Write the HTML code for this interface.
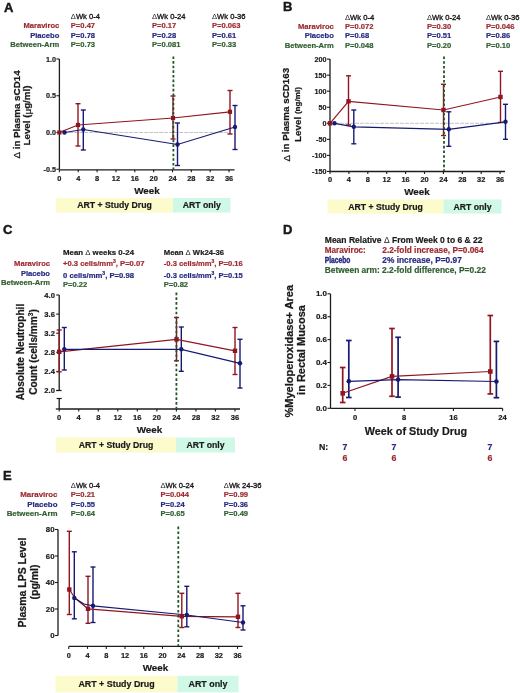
<!DOCTYPE html>
<html><head><meta charset="utf-8"><style>
html,body{margin:0;padding:0;background:#fff;width:520px;height:693px;overflow:hidden}
svg{display:block;filter:blur(0.3px)}
text{font-family:"Liberation Sans",sans-serif}
</style></head><body>
<svg width="520" height="693" viewBox="0 0 520 693">
<rect width="520" height="693" fill="#fff"/>
<text x="3.9" y="11.6" font-size="13" text-anchor="start" fill="#1a1a1a" font-weight="bold" stroke="#111" stroke-width="0.45">A</text>
<text x="70.8" y="19" font-size="7.6" text-anchor="start" fill="#1a1a1a" font-weight="normal" stroke="#1a1a1a" stroke-width="0.35"><tspan font-weight="normal" stroke-width="0">&#916;</tspan>Wk 0-4</text>
<text x="152" y="19" font-size="7.6" text-anchor="start" fill="#1a1a1a" font-weight="normal" stroke="#1a1a1a" stroke-width="0.35"><tspan font-weight="normal" stroke-width="0">&#916;</tspan>Wk 0-24</text>
<text x="212" y="19" font-size="7.6" text-anchor="start" fill="#1a1a1a" font-weight="normal" stroke="#1a1a1a" stroke-width="0.35"><tspan font-weight="normal" stroke-width="0">&#916;</tspan>Wk 0-36</text>
<text x="59.3" y="28.4" font-size="7.6" text-anchor="end" fill="#9e2a30" font-weight="bold"  stroke="#9e2a30" stroke-width="0.2">Maraviroc</text>
<text x="70.8" y="28.4" font-size="7.6" text-anchor="start" fill="#9e2a30" font-weight="bold"  stroke="#9e2a30" stroke-width="0.2">P=0.47</text>
<text x="152" y="28.4" font-size="7.6" text-anchor="start" fill="#9e2a30" font-weight="bold"  stroke="#9e2a30" stroke-width="0.2">P=0.17</text>
<text x="212" y="28.4" font-size="7.6" text-anchor="start" fill="#9e2a30" font-weight="bold"  stroke="#9e2a30" stroke-width="0.2">P=0.063</text>
<text x="59.3" y="37.7" font-size="7.6" text-anchor="end" fill="#272a80" font-weight="bold"  stroke="#272a80" stroke-width="0.2">Placebo</text>
<text x="70.8" y="37.7" font-size="7.6" text-anchor="start" fill="#272a80" font-weight="bold"  stroke="#272a80" stroke-width="0.2">P=0.78</text>
<text x="152" y="37.7" font-size="7.6" text-anchor="start" fill="#272a80" font-weight="bold"  stroke="#272a80" stroke-width="0.2">P=0.28</text>
<text x="212" y="37.7" font-size="7.6" text-anchor="start" fill="#272a80" font-weight="bold"  stroke="#272a80" stroke-width="0.2">P=0.61</text>
<text x="59.3" y="47.2" font-size="7.6" text-anchor="end" fill="#2f5f30" font-weight="bold"  stroke="#2f5f30" stroke-width="0.2">Between-Arm</text>
<text x="70.8" y="47.2" font-size="7.6" text-anchor="start" fill="#2f5f30" font-weight="bold"  stroke="#2f5f30" stroke-width="0.2">P=0.73</text>
<text x="152" y="47.2" font-size="7.6" text-anchor="start" fill="#2f5f30" font-weight="bold"  stroke="#2f5f30" stroke-width="0.2">P=0.081</text>
<text x="212" y="47.2" font-size="7.6" text-anchor="start" fill="#2f5f30" font-weight="bold"  stroke="#2f5f30" stroke-width="0.2">P=0.33</text>
<line x1="59.4" y1="59.0" x2="59.4" y2="169.25" stroke="#1c1c1c" stroke-width="1.3" />
<line x1="56.4" y1="59.0" x2="59.4" y2="59.0" stroke="#1c1c1c" stroke-width="1.1" />
<text x="55.9" y="61.6" font-size="7.2" text-anchor="end" fill="#1a1a1a" font-weight="bold"  stroke="#1a1a1a" stroke-width="0.2">1.0</text>
<line x1="56.4" y1="95.75" x2="59.4" y2="95.75" stroke="#1c1c1c" stroke-width="1.1" />
<text x="55.9" y="98.35" font-size="7.2" text-anchor="end" fill="#1a1a1a" font-weight="bold"  stroke="#1a1a1a" stroke-width="0.2">0.5</text>
<line x1="56.4" y1="132.5" x2="59.4" y2="132.5" stroke="#1c1c1c" stroke-width="1.1" />
<text x="55.9" y="135.1" font-size="7.2" text-anchor="end" fill="#1a1a1a" font-weight="bold"  stroke="#1a1a1a" stroke-width="0.2">0.0</text>
<line x1="56.4" y1="169.25" x2="59.4" y2="169.25" stroke="#1c1c1c" stroke-width="1.1" />
<text x="55.9" y="171.85" font-size="7.2" text-anchor="end" fill="#1a1a1a" font-weight="bold"  stroke="#1a1a1a" stroke-width="0.2">-0.5</text>
<line x1="59.4" y1="169.8" x2="234.5" y2="169.8" stroke="#1c1c1c" stroke-width="1.3" />
<line x1="59.4" y1="169.8" x2="59.4" y2="172.3" stroke="#1c1c1c" stroke-width="1.1" />
<text x="59.4" y="181" font-size="7.4" text-anchor="middle" fill="#1a1a1a" font-weight="bold"  stroke="#1a1a1a" stroke-width="0.2">0</text>
<line x1="78.25" y1="169.8" x2="78.25" y2="172.3" stroke="#1c1c1c" stroke-width="1.1" />
<text x="78.25" y="181" font-size="7.4" text-anchor="middle" fill="#1a1a1a" font-weight="bold"  stroke="#1a1a1a" stroke-width="0.2">4</text>
<line x1="97.1" y1="169.8" x2="97.1" y2="172.3" stroke="#1c1c1c" stroke-width="1.1" />
<text x="97.1" y="181" font-size="7.4" text-anchor="middle" fill="#1a1a1a" font-weight="bold"  stroke="#1a1a1a" stroke-width="0.2">8</text>
<line x1="115.95" y1="169.8" x2="115.95" y2="172.3" stroke="#1c1c1c" stroke-width="1.1" />
<text x="115.95" y="181" font-size="7.4" text-anchor="middle" fill="#1a1a1a" font-weight="bold"  stroke="#1a1a1a" stroke-width="0.2">12</text>
<line x1="134.8" y1="169.8" x2="134.8" y2="172.3" stroke="#1c1c1c" stroke-width="1.1" />
<text x="134.8" y="181" font-size="7.4" text-anchor="middle" fill="#1a1a1a" font-weight="bold"  stroke="#1a1a1a" stroke-width="0.2">16</text>
<line x1="153.65" y1="169.8" x2="153.65" y2="172.3" stroke="#1c1c1c" stroke-width="1.1" />
<text x="153.65" y="181" font-size="7.4" text-anchor="middle" fill="#1a1a1a" font-weight="bold"  stroke="#1a1a1a" stroke-width="0.2">20</text>
<line x1="172.5" y1="169.8" x2="172.5" y2="172.3" stroke="#1c1c1c" stroke-width="1.1" />
<text x="172.5" y="181" font-size="7.4" text-anchor="middle" fill="#1a1a1a" font-weight="bold"  stroke="#1a1a1a" stroke-width="0.2">24</text>
<line x1="191.35000000000002" y1="169.8" x2="191.35000000000002" y2="172.3" stroke="#1c1c1c" stroke-width="1.1" />
<text x="191.35000000000002" y="181" font-size="7.4" text-anchor="middle" fill="#1a1a1a" font-weight="bold"  stroke="#1a1a1a" stroke-width="0.2">28</text>
<line x1="210.20000000000002" y1="169.8" x2="210.20000000000002" y2="172.3" stroke="#1c1c1c" stroke-width="1.1" />
<text x="210.20000000000002" y="181" font-size="7.4" text-anchor="middle" fill="#1a1a1a" font-weight="bold"  stroke="#1a1a1a" stroke-width="0.2">32</text>
<line x1="229.05" y1="169.8" x2="229.05" y2="172.3" stroke="#1c1c1c" stroke-width="1.1" />
<text x="229.05" y="181" font-size="7.4" text-anchor="middle" fill="#1a1a1a" font-weight="bold"  stroke="#1a1a1a" stroke-width="0.2">36</text>
<text x="147" y="193.5" font-size="9.9" text-anchor="middle" fill="#1a1a1a" font-weight="bold"  stroke="#1a1a1a" stroke-width="0.2">Week</text>
<rect x="56" y="198" width="117" height="14.5" fill="#fcfbcc"/>
<rect x="173" y="198" width="57.5" height="14.5" fill="#cff8e7"/>
<text x="114.5" y="208.25" font-size="8.7" text-anchor="middle" fill="#1a1a1a" font-weight="bold"  stroke="#1a1a1a" stroke-width="0.2">ART + Study Drug</text>
<text x="201.75" y="208.25" font-size="8.7" text-anchor="middle" fill="#1a1a1a" font-weight="bold"  stroke="#1a1a1a" stroke-width="0.2">ART only</text>
<line x1="59.2" y1="132.5" x2="229" y2="132.5" stroke="#bdbdbd" stroke-width="0.9" stroke-dasharray="4,1"/>
<text transform="translate(16.4,114.5) rotate(-90)" x="0" y="0" font-size="9.8" text-anchor="middle" dominant-baseline="central" fill="#1a1a1a" font-weight="bold" stroke="#1a1a1a" stroke-width="0.25"><tspan font-weight="normal">&#916;</tspan> in Plasma sCD14</text>
<text transform="translate(26.5,115.5) rotate(-90)" x="0" y="0" font-size="9.8" text-anchor="middle" dominant-baseline="central" fill="#1a1a1a" font-weight="bold" stroke="#1a1a1a" stroke-width="0.25">Level (<tspan font-weight="normal">&#956;</tspan>g/ml)</text>
<line x1="78" y1="103.7" x2="78" y2="146" stroke="#8f1620" stroke-width="1.4" />
<line x1="75.5" y1="103.7" x2="80.5" y2="103.7" stroke="#8f1620" stroke-width="1.4" />
<line x1="75.5" y1="146" x2="80.5" y2="146" stroke="#8f1620" stroke-width="1.4" />
<line x1="173" y1="96" x2="173" y2="139" stroke="#8f1620" stroke-width="1.4" />
<line x1="170.5" y1="96" x2="175.5" y2="96" stroke="#8f1620" stroke-width="1.4" />
<line x1="170.5" y1="139" x2="175.5" y2="139" stroke="#8f1620" stroke-width="1.4" />
<line x1="230" y1="90.5" x2="230" y2="134" stroke="#8f1620" stroke-width="1.4" />
<line x1="227.5" y1="90.5" x2="232.5" y2="90.5" stroke="#8f1620" stroke-width="1.4" />
<line x1="227.5" y1="134" x2="232.5" y2="134" stroke="#8f1620" stroke-width="1.4" />
<line x1="83.3" y1="110" x2="83.3" y2="150" stroke="#161a72" stroke-width="1.4" />
<line x1="80.8" y1="110" x2="85.8" y2="110" stroke="#161a72" stroke-width="1.4" />
<line x1="80.8" y1="150" x2="85.8" y2="150" stroke="#161a72" stroke-width="1.4" />
<line x1="177.5" y1="123" x2="177.5" y2="165.5" stroke="#161a72" stroke-width="1.4" />
<line x1="175.0" y1="123" x2="180.0" y2="123" stroke="#161a72" stroke-width="1.4" />
<line x1="175.0" y1="165.5" x2="180.0" y2="165.5" stroke="#161a72" stroke-width="1.4" />
<line x1="235" y1="105.5" x2="235" y2="149.5" stroke="#161a72" stroke-width="1.4" />
<line x1="232.5" y1="105.5" x2="237.5" y2="105.5" stroke="#161a72" stroke-width="1.4" />
<line x1="232.5" y1="149.5" x2="237.5" y2="149.5" stroke="#161a72" stroke-width="1.4" />
<text x="283" y="10.9" font-size="13" text-anchor="start" fill="#1a1a1a" font-weight="bold" stroke="#111" stroke-width="0.45">B</text>
<text x="345" y="20.1" font-size="7.6" text-anchor="start" fill="#1a1a1a" font-weight="normal" stroke="#1a1a1a" stroke-width="0.35"><tspan font-weight="normal" stroke-width="0">&#916;</tspan>Wk 0-4</text>
<text x="427" y="20.1" font-size="7.6" text-anchor="start" fill="#1a1a1a" font-weight="normal" stroke="#1a1a1a" stroke-width="0.35"><tspan font-weight="normal" stroke-width="0">&#916;</tspan>Wk 0-24</text>
<text x="486" y="20.1" font-size="7.6" text-anchor="start" fill="#1a1a1a" font-weight="normal" stroke="#1a1a1a" stroke-width="0.35"><tspan font-weight="normal" stroke-width="0">&#916;</tspan>Wk 0-36</text>
<text x="333.8" y="29.3" font-size="7.6" text-anchor="end" fill="#9e2a30" font-weight="bold"  stroke="#9e2a30" stroke-width="0.2">Maraviroc</text>
<text x="345" y="29.3" font-size="7.6" text-anchor="start" fill="#9e2a30" font-weight="bold"  stroke="#9e2a30" stroke-width="0.2">P=0.072</text>
<text x="427" y="29.3" font-size="7.6" text-anchor="start" fill="#9e2a30" font-weight="bold"  stroke="#9e2a30" stroke-width="0.2">P=0.30</text>
<text x="486" y="29.3" font-size="7.6" text-anchor="start" fill="#9e2a30" font-weight="bold"  stroke="#9e2a30" stroke-width="0.2">P=0.046</text>
<text x="333.8" y="38.3" font-size="7.6" text-anchor="end" fill="#272a80" font-weight="bold"  stroke="#272a80" stroke-width="0.2">Placebo</text>
<text x="345" y="38.3" font-size="7.6" text-anchor="start" fill="#272a80" font-weight="bold"  stroke="#272a80" stroke-width="0.2">P=0.68</text>
<text x="427" y="38.3" font-size="7.6" text-anchor="start" fill="#272a80" font-weight="bold"  stroke="#272a80" stroke-width="0.2">P=0.51</text>
<text x="486" y="38.3" font-size="7.6" text-anchor="start" fill="#272a80" font-weight="bold"  stroke="#272a80" stroke-width="0.2">P=0.86</text>
<text x="333.8" y="47.9" font-size="7.6" text-anchor="end" fill="#2f5f30" font-weight="bold"  stroke="#2f5f30" stroke-width="0.2">Between-Arm</text>
<text x="345" y="47.9" font-size="7.6" text-anchor="start" fill="#2f5f30" font-weight="bold"  stroke="#2f5f30" stroke-width="0.2">P=0.048</text>
<text x="427" y="47.9" font-size="7.6" text-anchor="start" fill="#2f5f30" font-weight="bold"  stroke="#2f5f30" stroke-width="0.2">P=0.20</text>
<text x="486" y="47.9" font-size="7.6" text-anchor="start" fill="#2f5f30" font-weight="bold"  stroke="#2f5f30" stroke-width="0.2">P=0.10</text>
<line x1="330" y1="59.099999999999994" x2="330" y2="171.45" stroke="#1c1c1c" stroke-width="1.3" />
<line x1="327" y1="59.099999999999994" x2="330" y2="59.099999999999994" stroke="#1c1c1c" stroke-width="1.1" />
<text x="326.5" y="61.699999999999996" font-size="7.2" text-anchor="end" fill="#1a1a1a" font-weight="bold"  stroke="#1a1a1a" stroke-width="0.2">200</text>
<line x1="327" y1="75.15" x2="330" y2="75.15" stroke="#1c1c1c" stroke-width="1.1" />
<text x="326.5" y="77.75" font-size="7.2" text-anchor="end" fill="#1a1a1a" font-weight="bold"  stroke="#1a1a1a" stroke-width="0.2">150</text>
<line x1="327" y1="91.19999999999999" x2="330" y2="91.19999999999999" stroke="#1c1c1c" stroke-width="1.1" />
<text x="326.5" y="93.79999999999998" font-size="7.2" text-anchor="end" fill="#1a1a1a" font-weight="bold"  stroke="#1a1a1a" stroke-width="0.2">100</text>
<line x1="327" y1="107.25" x2="330" y2="107.25" stroke="#1c1c1c" stroke-width="1.1" />
<text x="326.5" y="109.85" font-size="7.2" text-anchor="end" fill="#1a1a1a" font-weight="bold"  stroke="#1a1a1a" stroke-width="0.2">50</text>
<line x1="327" y1="123.3" x2="330" y2="123.3" stroke="#1c1c1c" stroke-width="1.1" />
<text x="326.5" y="125.89999999999999" font-size="7.2" text-anchor="end" fill="#1a1a1a" font-weight="bold"  stroke="#1a1a1a" stroke-width="0.2">0</text>
<line x1="327" y1="139.35" x2="330" y2="139.35" stroke="#1c1c1c" stroke-width="1.1" />
<text x="326.5" y="141.95" font-size="7.2" text-anchor="end" fill="#1a1a1a" font-weight="bold"  stroke="#1a1a1a" stroke-width="0.2">-50</text>
<line x1="327" y1="155.4" x2="330" y2="155.4" stroke="#1c1c1c" stroke-width="1.1" />
<text x="326.5" y="158.0" font-size="7.2" text-anchor="end" fill="#1a1a1a" font-weight="bold"  stroke="#1a1a1a" stroke-width="0.2">-100</text>
<line x1="327" y1="171.45" x2="330" y2="171.45" stroke="#1c1c1c" stroke-width="1.1" />
<text x="326.5" y="174.04999999999998" font-size="7.2" text-anchor="end" fill="#1a1a1a" font-weight="bold"  stroke="#1a1a1a" stroke-width="0.2">-150</text>
<line x1="330" y1="171.5" x2="505" y2="171.5" stroke="#1c1c1c" stroke-width="1.3" />
<line x1="330.0" y1="171.5" x2="330.0" y2="174.0" stroke="#1c1c1c" stroke-width="1.1" />
<text x="330.0" y="182" font-size="7.4" text-anchor="middle" fill="#1a1a1a" font-weight="bold"  stroke="#1a1a1a" stroke-width="0.2">0</text>
<line x1="348.9" y1="171.5" x2="348.9" y2="174.0" stroke="#1c1c1c" stroke-width="1.1" />
<text x="348.9" y="182" font-size="7.4" text-anchor="middle" fill="#1a1a1a" font-weight="bold"  stroke="#1a1a1a" stroke-width="0.2">4</text>
<line x1="367.8" y1="171.5" x2="367.8" y2="174.0" stroke="#1c1c1c" stroke-width="1.1" />
<text x="367.8" y="182" font-size="7.4" text-anchor="middle" fill="#1a1a1a" font-weight="bold"  stroke="#1a1a1a" stroke-width="0.2">8</text>
<line x1="386.7" y1="171.5" x2="386.7" y2="174.0" stroke="#1c1c1c" stroke-width="1.1" />
<text x="386.7" y="182" font-size="7.4" text-anchor="middle" fill="#1a1a1a" font-weight="bold"  stroke="#1a1a1a" stroke-width="0.2">12</text>
<line x1="405.6" y1="171.5" x2="405.6" y2="174.0" stroke="#1c1c1c" stroke-width="1.1" />
<text x="405.6" y="182" font-size="7.4" text-anchor="middle" fill="#1a1a1a" font-weight="bold"  stroke="#1a1a1a" stroke-width="0.2">16</text>
<line x1="424.5" y1="171.5" x2="424.5" y2="174.0" stroke="#1c1c1c" stroke-width="1.1" />
<text x="424.5" y="182" font-size="7.4" text-anchor="middle" fill="#1a1a1a" font-weight="bold"  stroke="#1a1a1a" stroke-width="0.2">20</text>
<line x1="443.4" y1="171.5" x2="443.4" y2="174.0" stroke="#1c1c1c" stroke-width="1.1" />
<text x="443.4" y="182" font-size="7.4" text-anchor="middle" fill="#1a1a1a" font-weight="bold"  stroke="#1a1a1a" stroke-width="0.2">24</text>
<line x1="462.29999999999995" y1="171.5" x2="462.29999999999995" y2="174.0" stroke="#1c1c1c" stroke-width="1.1" />
<text x="462.29999999999995" y="182" font-size="7.4" text-anchor="middle" fill="#1a1a1a" font-weight="bold"  stroke="#1a1a1a" stroke-width="0.2">28</text>
<line x1="481.2" y1="171.5" x2="481.2" y2="174.0" stroke="#1c1c1c" stroke-width="1.1" />
<text x="481.2" y="182" font-size="7.4" text-anchor="middle" fill="#1a1a1a" font-weight="bold"  stroke="#1a1a1a" stroke-width="0.2">32</text>
<line x1="500.1" y1="171.5" x2="500.1" y2="174.0" stroke="#1c1c1c" stroke-width="1.1" />
<text x="500.1" y="182" font-size="7.4" text-anchor="middle" fill="#1a1a1a" font-weight="bold"  stroke="#1a1a1a" stroke-width="0.2">36</text>
<text x="417" y="194.5" font-size="9.9" text-anchor="middle" fill="#1a1a1a" font-weight="bold"  stroke="#1a1a1a" stroke-width="0.2">Week</text>
<rect x="327.5" y="199.5" width="116.0" height="14" fill="#fcfbcc"/>
<rect x="443.5" y="199.5" width="58.0" height="14" fill="#cff8e7"/>
<text x="385.5" y="209.5" font-size="8.7" text-anchor="middle" fill="#1a1a1a" font-weight="bold"  stroke="#1a1a1a" stroke-width="0.2">ART + Study Drug</text>
<text x="472.5" y="209.5" font-size="8.7" text-anchor="middle" fill="#1a1a1a" font-weight="bold"  stroke="#1a1a1a" stroke-width="0.2">ART only</text>
<line x1="330" y1="123.3" x2="500" y2="123.3" stroke="#bdbdbd" stroke-width="0.9" stroke-dasharray="4,1"/>
<text transform="translate(285.6,114.7) rotate(-90)" x="0" y="0" font-size="9.8" text-anchor="middle" dominant-baseline="central" fill="#1a1a1a" font-weight="bold" stroke="#1a1a1a" stroke-width="0.25"><tspan font-weight="normal">&#916;</tspan> in Plasma sCD163</text>
<text transform="translate(297.2,114.5) rotate(-90)" x="0" y="0" font-size="9.8" text-anchor="middle" dominant-baseline="central" fill="#1a1a1a" font-weight="bold" stroke="#1a1a1a" stroke-width="0.25">Level <tspan font-size="8.1">(ng/ml)</tspan></text>
<line x1="348.5" y1="75.8" x2="348.5" y2="125" stroke="#8f1620" stroke-width="1.4" />
<line x1="346.0" y1="75.8" x2="351.0" y2="75.8" stroke="#8f1620" stroke-width="1.4" />
<line x1="346.0" y1="125" x2="351.0" y2="125" stroke="#8f1620" stroke-width="1.4" />
<line x1="443.5" y1="84.3" x2="443.5" y2="135.5" stroke="#8f1620" stroke-width="1.4" />
<line x1="441.0" y1="84.3" x2="446.0" y2="84.3" stroke="#8f1620" stroke-width="1.4" />
<line x1="441.0" y1="135.5" x2="446.0" y2="135.5" stroke="#8f1620" stroke-width="1.4" />
<line x1="500.5" y1="71.3" x2="500.5" y2="122.5" stroke="#8f1620" stroke-width="1.4" />
<line x1="498.0" y1="71.3" x2="503.0" y2="71.3" stroke="#8f1620" stroke-width="1.4" />
<line x1="498.0" y1="122.5" x2="503.0" y2="122.5" stroke="#8f1620" stroke-width="1.4" />
<line x1="353.8" y1="110" x2="353.8" y2="143.8" stroke="#161a72" stroke-width="1.4" />
<line x1="351.3" y1="110" x2="356.3" y2="110" stroke="#161a72" stroke-width="1.4" />
<line x1="351.3" y1="143.8" x2="356.3" y2="143.8" stroke="#161a72" stroke-width="1.4" />
<line x1="448.8" y1="111.8" x2="448.8" y2="146.3" stroke="#161a72" stroke-width="1.4" />
<line x1="446.3" y1="111.8" x2="451.3" y2="111.8" stroke="#161a72" stroke-width="1.4" />
<line x1="446.3" y1="146.3" x2="451.3" y2="146.3" stroke="#161a72" stroke-width="1.4" />
<line x1="505.5" y1="104.3" x2="505.5" y2="139.3" stroke="#161a72" stroke-width="1.4" />
<line x1="503.0" y1="104.3" x2="508.0" y2="104.3" stroke="#161a72" stroke-width="1.4" />
<line x1="503.0" y1="139.3" x2="508.0" y2="139.3" stroke="#161a72" stroke-width="1.4" />
<text x="3.0" y="234.3" font-size="13" text-anchor="start" fill="#1a1a1a" font-weight="bold" stroke="#111" stroke-width="0.45">C</text>
<text x="63" y="254.5" font-size="7.6" text-anchor="start" fill="#1a1a1a" font-weight="bold" textLength="71" lengthAdjust="spacingAndGlyphs"  stroke="#1a1a1a" stroke-width="0.2">Mean <tspan font-weight="normal" stroke-width="0">&#916;</tspan> weeks 0-24</text>
<text x="63" y="266" font-size="7.6" text-anchor="start" fill="#9e2a30" font-weight="bold" textLength="81.5" lengthAdjust="spacingAndGlyphs"  stroke="#9e2a30" stroke-width="0.2">+0.3 cells/mm<tspan dy="-3" font-size="5">3</tspan><tspan dy="3">, P=0.07</tspan></text>
<text x="63" y="278" font-size="7.6" text-anchor="start" fill="#272a80" font-weight="bold" textLength="71" lengthAdjust="spacingAndGlyphs"  stroke="#272a80" stroke-width="0.2">0 cells/mm<tspan dy="-3" font-size="5">3</tspan><tspan dy="3">, P=0.98</tspan></text>
<text x="63" y="287" font-size="7.6" text-anchor="start" fill="#2f5f30" font-weight="bold"  stroke="#2f5f30" stroke-width="0.2">P=0.22</text>
<text x="163.8" y="254.5" font-size="7.6" text-anchor="start" fill="#1a1a1a" font-weight="bold" textLength="60.3" lengthAdjust="spacingAndGlyphs"  stroke="#1a1a1a" stroke-width="0.2">Mean <tspan font-weight="normal" stroke-width="0">&#916;</tspan> Wk24-36</text>
<text x="163.8" y="266" font-size="7.6" text-anchor="start" fill="#9e2a30" font-weight="bold" textLength="79" lengthAdjust="spacingAndGlyphs"  stroke="#9e2a30" stroke-width="0.2">-0.3 cells/mm<tspan dy="-3" font-size="5">3</tspan><tspan dy="3">, P=0.16</tspan></text>
<text x="163.8" y="278" font-size="7.6" text-anchor="start" fill="#272a80" font-weight="bold" textLength="79" lengthAdjust="spacingAndGlyphs"  stroke="#272a80" stroke-width="0.2">-0.3 cells/mm<tspan dy="-3" font-size="5">3</tspan><tspan dy="3">, P=0.15</tspan></text>
<text x="163.8" y="287" font-size="7.6" text-anchor="start" fill="#2f5f30" font-weight="bold"  stroke="#2f5f30" stroke-width="0.2">P=0.82</text>
<text x="50" y="266" font-size="7.6" text-anchor="end" fill="#9e2a30" font-weight="bold"  stroke="#9e2a30" stroke-width="0.2">Maraviroc</text>
<text x="50" y="275.5" font-size="7.6" text-anchor="end" fill="#272a80" font-weight="bold"  stroke="#272a80" stroke-width="0.2">Placebo</text>
<text x="50" y="285" font-size="7.6" text-anchor="end" fill="#2f5f30" font-weight="bold"  stroke="#2f5f30" stroke-width="0.2">Between-Arm</text>
<line x1="59.2" y1="295.0" x2="59.2" y2="390.5" stroke="#1c1c1c" stroke-width="1.3" />
<line x1="56.2" y1="295.0" x2="59.2" y2="295.0" stroke="#1c1c1c" stroke-width="1.1" />
<text x="54.900000000000006" y="297.6" font-size="7.6" text-anchor="end" fill="#1a1a1a" font-weight="bold"  stroke="#1a1a1a" stroke-width="0.2">4.0</text>
<line x1="56.2" y1="314.1" x2="59.2" y2="314.1" stroke="#1c1c1c" stroke-width="1.1" />
<text x="54.900000000000006" y="316.70000000000005" font-size="7.6" text-anchor="end" fill="#1a1a1a" font-weight="bold"  stroke="#1a1a1a" stroke-width="0.2">3.6</text>
<line x1="56.2" y1="333.2" x2="59.2" y2="333.2" stroke="#1c1c1c" stroke-width="1.1" />
<text x="54.900000000000006" y="335.8" font-size="7.6" text-anchor="end" fill="#1a1a1a" font-weight="bold"  stroke="#1a1a1a" stroke-width="0.2">3.2</text>
<line x1="56.2" y1="352.3" x2="59.2" y2="352.3" stroke="#1c1c1c" stroke-width="1.1" />
<text x="54.900000000000006" y="354.90000000000003" font-size="7.6" text-anchor="end" fill="#1a1a1a" font-weight="bold"  stroke="#1a1a1a" stroke-width="0.2">2.8</text>
<line x1="56.2" y1="371.4" x2="59.2" y2="371.4" stroke="#1c1c1c" stroke-width="1.1" />
<text x="54.900000000000006" y="374.0" font-size="7.6" text-anchor="end" fill="#1a1a1a" font-weight="bold"  stroke="#1a1a1a" stroke-width="0.2">2.4</text>
<line x1="56.2" y1="390.5" x2="59.2" y2="390.5" stroke="#1c1c1c" stroke-width="1.1" />
<text x="54.900000000000006" y="393.1" font-size="7.6" text-anchor="end" fill="#1a1a1a" font-weight="bold"  stroke="#1a1a1a" stroke-width="0.2">2.0</text>
<line x1="59.2" y1="398.5" x2="59.2" y2="409" stroke="#1c1c1c" stroke-width="1.3" />
<line x1="56.6" y1="398.5" x2="61.8" y2="398.5" stroke="#1c1c1c" stroke-width="1.2" />
<line x1="56.2" y1="390.5" x2="61.6" y2="390.5" stroke="#1c1c1c" stroke-width="1.2" />
<line x1="55.8" y1="409" x2="59.2" y2="409" stroke="#1c1c1c" stroke-width="1.3" />
<line x1="59.2" y1="409" x2="240" y2="409" stroke="#1c1c1c" stroke-width="1.3" />
<line x1="59.2" y1="409" x2="59.2" y2="411.5" stroke="#1c1c1c" stroke-width="1.1" />
<text x="59.2" y="420.3" font-size="7.6" text-anchor="middle" fill="#1a1a1a" font-weight="bold"  stroke="#1a1a1a" stroke-width="0.2">0</text>
<line x1="78.73" y1="409" x2="78.73" y2="411.5" stroke="#1c1c1c" stroke-width="1.1" />
<text x="78.73" y="420.3" font-size="7.6" text-anchor="middle" fill="#1a1a1a" font-weight="bold"  stroke="#1a1a1a" stroke-width="0.2">4</text>
<line x1="98.26" y1="409" x2="98.26" y2="411.5" stroke="#1c1c1c" stroke-width="1.1" />
<text x="98.26" y="420.3" font-size="7.6" text-anchor="middle" fill="#1a1a1a" font-weight="bold"  stroke="#1a1a1a" stroke-width="0.2">8</text>
<line x1="117.79" y1="409" x2="117.79" y2="411.5" stroke="#1c1c1c" stroke-width="1.1" />
<text x="117.79" y="420.3" font-size="7.6" text-anchor="middle" fill="#1a1a1a" font-weight="bold"  stroke="#1a1a1a" stroke-width="0.2">12</text>
<line x1="137.32" y1="409" x2="137.32" y2="411.5" stroke="#1c1c1c" stroke-width="1.1" />
<text x="137.32" y="420.3" font-size="7.6" text-anchor="middle" fill="#1a1a1a" font-weight="bold"  stroke="#1a1a1a" stroke-width="0.2">16</text>
<line x1="156.85000000000002" y1="409" x2="156.85000000000002" y2="411.5" stroke="#1c1c1c" stroke-width="1.1" />
<text x="156.85000000000002" y="420.3" font-size="7.6" text-anchor="middle" fill="#1a1a1a" font-weight="bold"  stroke="#1a1a1a" stroke-width="0.2">20</text>
<line x1="176.38" y1="409" x2="176.38" y2="411.5" stroke="#1c1c1c" stroke-width="1.1" />
<text x="176.38" y="420.3" font-size="7.6" text-anchor="middle" fill="#1a1a1a" font-weight="bold"  stroke="#1a1a1a" stroke-width="0.2">24</text>
<line x1="195.91000000000003" y1="409" x2="195.91000000000003" y2="411.5" stroke="#1c1c1c" stroke-width="1.1" />
<text x="195.91000000000003" y="420.3" font-size="7.6" text-anchor="middle" fill="#1a1a1a" font-weight="bold"  stroke="#1a1a1a" stroke-width="0.2">28</text>
<line x1="215.44" y1="409" x2="215.44" y2="411.5" stroke="#1c1c1c" stroke-width="1.1" />
<text x="215.44" y="420.3" font-size="7.6" text-anchor="middle" fill="#1a1a1a" font-weight="bold"  stroke="#1a1a1a" stroke-width="0.2">32</text>
<line x1="234.97000000000003" y1="409" x2="234.97000000000003" y2="411.5" stroke="#1c1c1c" stroke-width="1.1" />
<text x="234.97000000000003" y="420.3" font-size="7.6" text-anchor="middle" fill="#1a1a1a" font-weight="bold"  stroke="#1a1a1a" stroke-width="0.2">36</text>
<text x="149.5" y="432.7" font-size="9.9" text-anchor="middle" fill="#1a1a1a" font-weight="bold"  stroke="#1a1a1a" stroke-width="0.2">Week</text>
<rect x="56" y="437.5" width="120" height="15" fill="#fcfbcc"/>
<rect x="176" y="437.5" width="59" height="15" fill="#cff8e7"/>
<text x="116.0" y="448.0" font-size="8.7" text-anchor="middle" fill="#1a1a1a" font-weight="bold"  stroke="#1a1a1a" stroke-width="0.2">ART + Study Drug</text>
<text x="205.5" y="448.0" font-size="8.7" text-anchor="middle" fill="#1a1a1a" font-weight="bold"  stroke="#1a1a1a" stroke-width="0.2">ART only</text>
<text transform="translate(20,352) rotate(-90)" x="0" y="0" font-size="10.1" text-anchor="middle" dominant-baseline="central" fill="#1a1a1a" font-weight="bold" stroke="#1a1a1a" stroke-width="0.25">Absolute Neutrophil</text>
<text transform="translate(33,352) rotate(-90)" x="0" y="0" font-size="10.1" text-anchor="middle" dominant-baseline="central" fill="#1a1a1a" font-weight="bold" stroke="#1a1a1a" stroke-width="0.25">Count (cells/mm<tspan dy="-3" font-size="6.5">3</tspan><tspan dy="3">)</tspan></text>
<line x1="59.2" y1="330" x2="59.2" y2="371.8" stroke="#8f1620" stroke-width="1.4" />
<line x1="56.7" y1="330" x2="61.7" y2="330" stroke="#8f1620" stroke-width="1.4" />
<line x1="56.7" y1="371.8" x2="61.7" y2="371.8" stroke="#8f1620" stroke-width="1.4" />
<line x1="176.5" y1="317.5" x2="176.5" y2="360.8" stroke="#8f1620" stroke-width="1.4" />
<line x1="174.0" y1="317.5" x2="179.0" y2="317.5" stroke="#8f1620" stroke-width="1.4" />
<line x1="174.0" y1="360.8" x2="179.0" y2="360.8" stroke="#8f1620" stroke-width="1.4" />
<line x1="235" y1="327.5" x2="235" y2="374.5" stroke="#8f1620" stroke-width="1.4" />
<line x1="232.5" y1="327.5" x2="237.5" y2="327.5" stroke="#8f1620" stroke-width="1.4" />
<line x1="232.5" y1="374.5" x2="237.5" y2="374.5" stroke="#8f1620" stroke-width="1.4" />
<line x1="64.3" y1="327.5" x2="64.3" y2="370" stroke="#161a72" stroke-width="1.4" />
<line x1="61.8" y1="327.5" x2="66.8" y2="327.5" stroke="#161a72" stroke-width="1.4" />
<line x1="61.8" y1="370" x2="66.8" y2="370" stroke="#161a72" stroke-width="1.4" />
<line x1="181.3" y1="327" x2="181.3" y2="371.3" stroke="#161a72" stroke-width="1.4" />
<line x1="178.8" y1="327" x2="183.8" y2="327" stroke="#161a72" stroke-width="1.4" />
<line x1="178.8" y1="371.3" x2="183.8" y2="371.3" stroke="#161a72" stroke-width="1.4" />
<line x1="240" y1="339.3" x2="240" y2="388" stroke="#161a72" stroke-width="1.4" />
<line x1="237.5" y1="339.3" x2="242.5" y2="339.3" stroke="#161a72" stroke-width="1.4" />
<line x1="237.5" y1="388" x2="242.5" y2="388" stroke="#161a72" stroke-width="1.4" />
<text x="283" y="234.2" font-size="13" text-anchor="start" fill="#1a1a1a" font-weight="bold" stroke="#111" stroke-width="0.45">D</text>
<text x="324.8" y="242.8" font-size="8.6" text-anchor="start" fill="#1a1a1a" font-weight="bold" textLength="157.8" lengthAdjust="spacingAndGlyphs"  stroke="#1a1a1a" stroke-width="0.2">Mean Relative <tspan font-weight="normal" stroke-width="0">&#916;</tspan> From Week 0 to 6 &amp; 22</text>
<text x="324.8" y="253" font-size="8.6" text-anchor="start" fill="#9e2a30" font-weight="bold" textLength="41" lengthAdjust="spacingAndGlyphs"  stroke="#9e2a30" stroke-width="0.2">Maraviroc:</text>
<text x="382.3" y="253" font-size="8.6" text-anchor="start" fill="#9e2a30" font-weight="bold" textLength="101.3" lengthAdjust="spacingAndGlyphs"  stroke="#9e2a30" stroke-width="0.2">2.2-fold increase, P=0.064</text>
<text x="324.8" y="263" font-size="9.2" text-anchor="start" fill="#272a80" font-weight="bold" textLength="25.5" lengthAdjust="spacingAndGlyphs" stroke="#272a80" stroke-width="0.45">Placebo</text>
<text x="382.3" y="262.9" font-size="8.6" text-anchor="start" fill="#272a80" font-weight="bold" textLength="79.5" lengthAdjust="spacingAndGlyphs"  stroke="#272a80" stroke-width="0.2">2% increase, P=0.97</text>
<text x="324.8" y="273" font-size="8.6" text-anchor="start" fill="#2f5f30" font-weight="bold" textLength="161" lengthAdjust="spacingAndGlyphs"  stroke="#2f5f30" stroke-width="0.2">Between arm: 2.2-fold difference, P=0.22</text>
<line x1="330.5" y1="293.8" x2="330.5" y2="408.3" stroke="#1c1c1c" stroke-width="1.3" />
<line x1="327.5" y1="293.8" x2="330.5" y2="293.8" stroke="#1c1c1c" stroke-width="1.1" />
<text x="327.0" y="296.40000000000003" font-size="8" text-anchor="end" fill="#1a1a1a" font-weight="bold"  stroke="#1a1a1a" stroke-width="0.2">1.0</text>
<line x1="327.5" y1="316.7" x2="330.5" y2="316.7" stroke="#1c1c1c" stroke-width="1.1" />
<text x="327.0" y="319.3" font-size="8" text-anchor="end" fill="#1a1a1a" font-weight="bold"  stroke="#1a1a1a" stroke-width="0.2">0.8</text>
<line x1="327.5" y1="339.6" x2="330.5" y2="339.6" stroke="#1c1c1c" stroke-width="1.1" />
<text x="327.0" y="342.20000000000005" font-size="8" text-anchor="end" fill="#1a1a1a" font-weight="bold"  stroke="#1a1a1a" stroke-width="0.2">0.6</text>
<line x1="327.5" y1="362.5" x2="330.5" y2="362.5" stroke="#1c1c1c" stroke-width="1.1" />
<text x="327.0" y="365.1" font-size="8" text-anchor="end" fill="#1a1a1a" font-weight="bold"  stroke="#1a1a1a" stroke-width="0.2">0.4</text>
<line x1="327.5" y1="385.40000000000003" x2="330.5" y2="385.40000000000003" stroke="#1c1c1c" stroke-width="1.1" />
<text x="327.0" y="388.00000000000006" font-size="8" text-anchor="end" fill="#1a1a1a" font-weight="bold"  stroke="#1a1a1a" stroke-width="0.2">0.2</text>
<line x1="327.5" y1="408.3" x2="330.5" y2="408.3" stroke="#1c1c1c" stroke-width="1.1" />
<text x="327.0" y="410.90000000000003" font-size="8" text-anchor="end" fill="#1a1a1a" font-weight="bold"  stroke="#1a1a1a" stroke-width="0.2">0.0</text>
<line x1="330.5" y1="408.3" x2="502.5" y2="408.3" stroke="#1c1c1c" stroke-width="1.3" />
<line x1="355.0" y1="408.3" x2="355.0" y2="411" stroke="#1c1c1c" stroke-width="1.1" />
<text x="355.0" y="420" font-size="7.6" text-anchor="middle" fill="#1a1a1a" font-weight="bold"  stroke="#1a1a1a" stroke-width="0.2">0</text>
<line x1="404.2" y1="408.3" x2="404.2" y2="411" stroke="#1c1c1c" stroke-width="1.1" />
<text x="404.2" y="420" font-size="7.6" text-anchor="middle" fill="#1a1a1a" font-weight="bold"  stroke="#1a1a1a" stroke-width="0.2">8</text>
<line x1="453.4" y1="408.3" x2="453.4" y2="411" stroke="#1c1c1c" stroke-width="1.1" />
<text x="453.4" y="420" font-size="7.6" text-anchor="middle" fill="#1a1a1a" font-weight="bold"  stroke="#1a1a1a" stroke-width="0.2">16</text>
<line x1="502.6" y1="408.3" x2="502.6" y2="411" stroke="#1c1c1c" stroke-width="1.1" />
<text x="502.6" y="420" font-size="7.6" text-anchor="middle" fill="#1a1a1a" font-weight="bold"  stroke="#1a1a1a" stroke-width="0.2">24</text>
<text x="416" y="434.5" font-size="10.8" text-anchor="middle" fill="#1a1a1a" font-weight="bold"  stroke="#1a1a1a" stroke-width="0.2">Week of Study Drug</text>
<text transform="translate(289.2,351.2) rotate(-90)" x="0" y="0" font-size="11" text-anchor="middle" dominant-baseline="central" fill="#1a1a1a" font-weight="bold" stroke="#1a1a1a" stroke-width="0.25">%Myeloperoxidase+ Area</text>
<text transform="translate(300.8,350) rotate(-90)" x="0" y="0" font-size="11" text-anchor="middle" dominant-baseline="central" fill="#1a1a1a" font-weight="bold" stroke="#1a1a1a" stroke-width="0.25">in Rectal Mucosa</text>
<line x1="342.7" y1="367.5" x2="342.7" y2="402.5" stroke="#8f1620" stroke-width="1.7" />
<line x1="339.9" y1="367.5" x2="345.5" y2="367.5" stroke="#8f1620" stroke-width="1.7" />
<line x1="339.9" y1="402.5" x2="345.5" y2="402.5" stroke="#8f1620" stroke-width="1.7" />
<line x1="392" y1="328.5" x2="392" y2="396.3" stroke="#8f1620" stroke-width="1.7" />
<line x1="389.2" y1="328.5" x2="394.8" y2="328.5" stroke="#8f1620" stroke-width="1.7" />
<line x1="389.2" y1="396.3" x2="394.8" y2="396.3" stroke="#8f1620" stroke-width="1.7" />
<line x1="490.3" y1="315.5" x2="490.3" y2="393.9" stroke="#8f1620" stroke-width="1.7" />
<line x1="487.5" y1="315.5" x2="493.1" y2="315.5" stroke="#8f1620" stroke-width="1.7" />
<line x1="487.5" y1="393.9" x2="493.1" y2="393.9" stroke="#8f1620" stroke-width="1.7" />
<line x1="348.8" y1="340.5" x2="348.8" y2="397.5" stroke="#161a72" stroke-width="1.7" />
<line x1="346.0" y1="340.5" x2="351.6" y2="340.5" stroke="#161a72" stroke-width="1.7" />
<line x1="346.0" y1="397.5" x2="351.6" y2="397.5" stroke="#161a72" stroke-width="1.7" />
<line x1="398.1" y1="337.3" x2="398.1" y2="397.1" stroke="#161a72" stroke-width="1.7" />
<line x1="395.3" y1="337.3" x2="400.90000000000003" y2="337.3" stroke="#161a72" stroke-width="1.7" />
<line x1="395.3" y1="397.1" x2="400.90000000000003" y2="397.1" stroke="#161a72" stroke-width="1.7" />
<line x1="496.4" y1="341.4" x2="496.4" y2="397.7" stroke="#161a72" stroke-width="1.7" />
<line x1="493.59999999999997" y1="341.4" x2="499.2" y2="341.4" stroke="#161a72" stroke-width="1.7" />
<line x1="493.59999999999997" y1="397.7" x2="499.2" y2="397.7" stroke="#161a72" stroke-width="1.7" />
<text x="319" y="449.5" font-size="8.8" text-anchor="start" fill="#1a1a1a" font-weight="bold"  stroke="#1a1a1a" stroke-width="0.2">N:</text>
<text x="345" y="449.5" font-size="8.8" text-anchor="middle" fill="#272a80" font-weight="bold"  stroke="#272a80" stroke-width="0.2">7</text>
<text x="345" y="460.8" font-size="8.8" text-anchor="middle" fill="#9e2a30" font-weight="bold"  stroke="#9e2a30" stroke-width="0.2">6</text>
<text x="394" y="449.5" font-size="8.8" text-anchor="middle" fill="#272a80" font-weight="bold"  stroke="#272a80" stroke-width="0.2">7</text>
<text x="394" y="460.8" font-size="8.8" text-anchor="middle" fill="#9e2a30" font-weight="bold"  stroke="#9e2a30" stroke-width="0.2">6</text>
<text x="490" y="449.5" font-size="8.8" text-anchor="middle" fill="#272a80" font-weight="bold"  stroke="#272a80" stroke-width="0.2">7</text>
<text x="490" y="460.8" font-size="8.8" text-anchor="middle" fill="#9e2a30" font-weight="bold"  stroke="#9e2a30" stroke-width="0.2">6</text>
<text x="2.9" y="479.5" font-size="13" text-anchor="start" fill="#1a1a1a" font-weight="bold" stroke="#111" stroke-width="0.45">E</text>
<text x="70.8" y="488" font-size="7.6" text-anchor="start" fill="#1a1a1a" font-weight="normal" stroke="#1a1a1a" stroke-width="0.35"><tspan font-weight="normal" stroke-width="0">&#916;</tspan>Wk 0-4</text>
<text x="160.5" y="488" font-size="7.6" text-anchor="start" fill="#1a1a1a" font-weight="normal" stroke="#1a1a1a" stroke-width="0.35"><tspan font-weight="normal" stroke-width="0">&#916;</tspan>Wk 0-24</text>
<text x="223.8" y="488" font-size="7.6" text-anchor="start" fill="#1a1a1a" font-weight="normal" stroke="#1a1a1a" stroke-width="0.35"><tspan font-weight="normal" stroke-width="0">&#916;</tspan>Wk 24-36</text>
<text x="57.5" y="496.6" font-size="7.9" text-anchor="end" fill="#9e2a30" font-weight="bold"  stroke="#9e2a30" stroke-width="0.2">Maraviroc</text>
<text x="70.8" y="496.6" font-size="7.6" text-anchor="start" fill="#9e2a30" font-weight="bold"  stroke="#9e2a30" stroke-width="0.2">P=0.21</text>
<text x="160.5" y="496.6" font-size="7.6" text-anchor="start" fill="#9e2a30" font-weight="bold"  stroke="#9e2a30" stroke-width="0.2">P=0.044</text>
<text x="223.8" y="496.6" font-size="7.6" text-anchor="start" fill="#9e2a30" font-weight="bold"  stroke="#9e2a30" stroke-width="0.2">P=0.99</text>
<text x="57.5" y="507.3" font-size="7.9" text-anchor="end" fill="#272a80" font-weight="bold"  stroke="#272a80" stroke-width="0.2">Placebo</text>
<text x="70.8" y="507.3" font-size="7.6" text-anchor="start" fill="#272a80" font-weight="bold"  stroke="#272a80" stroke-width="0.2">P=0.55</text>
<text x="160.5" y="507.3" font-size="7.6" text-anchor="start" fill="#272a80" font-weight="bold"  stroke="#272a80" stroke-width="0.2">P=0.24</text>
<text x="223.8" y="507.3" font-size="7.6" text-anchor="start" fill="#272a80" font-weight="bold"  stroke="#272a80" stroke-width="0.2">P=0.36</text>
<text x="57.5" y="516.4" font-size="7.9" text-anchor="end" fill="#2f5f30" font-weight="bold"  stroke="#2f5f30" stroke-width="0.2">Between-Arm</text>
<text x="70.8" y="516.4" font-size="7.6" text-anchor="start" fill="#2f5f30" font-weight="bold"  stroke="#2f5f30" stroke-width="0.2">P=0.64</text>
<text x="160.5" y="516.4" font-size="7.6" text-anchor="start" fill="#2f5f30" font-weight="bold"  stroke="#2f5f30" stroke-width="0.2">P=0.65</text>
<text x="223.8" y="516.4" font-size="7.6" text-anchor="start" fill="#2f5f30" font-weight="bold"  stroke="#2f5f30" stroke-width="0.2">P=0.49</text>
<line x1="58" y1="529.5" x2="58" y2="635.5" stroke="#1c1c1c" stroke-width="1.3" />
<line x1="55" y1="529.5" x2="58" y2="529.5" stroke="#1c1c1c" stroke-width="1.1" />
<text x="54.5" y="532.1" font-size="7.8" text-anchor="end" fill="#1a1a1a" font-weight="bold"  stroke="#1a1a1a" stroke-width="0.2">80</text>
<line x1="55" y1="556.0" x2="58" y2="556.0" stroke="#1c1c1c" stroke-width="1.1" />
<text x="54.5" y="558.6" font-size="7.8" text-anchor="end" fill="#1a1a1a" font-weight="bold"  stroke="#1a1a1a" stroke-width="0.2">60</text>
<line x1="55" y1="582.5" x2="58" y2="582.5" stroke="#1c1c1c" stroke-width="1.1" />
<text x="54.5" y="585.1" font-size="7.8" text-anchor="end" fill="#1a1a1a" font-weight="bold"  stroke="#1a1a1a" stroke-width="0.2">40</text>
<line x1="55" y1="609.0" x2="58" y2="609.0" stroke="#1c1c1c" stroke-width="1.1" />
<text x="54.5" y="611.6" font-size="7.8" text-anchor="end" fill="#1a1a1a" font-weight="bold"  stroke="#1a1a1a" stroke-width="0.2">20</text>
<line x1="55" y1="635.5" x2="58" y2="635.5" stroke="#1c1c1c" stroke-width="1.1" />
<text x="54.5" y="638.1" font-size="7.8" text-anchor="end" fill="#1a1a1a" font-weight="bold"  stroke="#1a1a1a" stroke-width="0.2">0</text>
<line x1="68.75" y1="646.4" x2="242.5" y2="646.4" stroke="#1c1c1c" stroke-width="1.3" />
<line x1="68.75" y1="646.4" x2="68.75" y2="648.9" stroke="#1c1c1c" stroke-width="1.1" />
<text x="68.75" y="657.8" font-size="7.4" text-anchor="middle" fill="#1a1a1a" font-weight="bold"  stroke="#1a1a1a" stroke-width="0.2">0</text>
<line x1="87.5" y1="646.4" x2="87.5" y2="648.9" stroke="#1c1c1c" stroke-width="1.1" />
<text x="87.5" y="657.8" font-size="7.4" text-anchor="middle" fill="#1a1a1a" font-weight="bold"  stroke="#1a1a1a" stroke-width="0.2">4</text>
<line x1="106.25" y1="646.4" x2="106.25" y2="648.9" stroke="#1c1c1c" stroke-width="1.1" />
<text x="106.25" y="657.8" font-size="7.4" text-anchor="middle" fill="#1a1a1a" font-weight="bold"  stroke="#1a1a1a" stroke-width="0.2">8</text>
<line x1="125.0" y1="646.4" x2="125.0" y2="648.9" stroke="#1c1c1c" stroke-width="1.1" />
<text x="125.0" y="657.8" font-size="7.4" text-anchor="middle" fill="#1a1a1a" font-weight="bold"  stroke="#1a1a1a" stroke-width="0.2">12</text>
<line x1="143.75" y1="646.4" x2="143.75" y2="648.9" stroke="#1c1c1c" stroke-width="1.1" />
<text x="143.75" y="657.8" font-size="7.4" text-anchor="middle" fill="#1a1a1a" font-weight="bold"  stroke="#1a1a1a" stroke-width="0.2">16</text>
<line x1="162.5" y1="646.4" x2="162.5" y2="648.9" stroke="#1c1c1c" stroke-width="1.1" />
<text x="162.5" y="657.8" font-size="7.4" text-anchor="middle" fill="#1a1a1a" font-weight="bold"  stroke="#1a1a1a" stroke-width="0.2">20</text>
<line x1="181.25" y1="646.4" x2="181.25" y2="648.9" stroke="#1c1c1c" stroke-width="1.1" />
<text x="181.25" y="657.8" font-size="7.4" text-anchor="middle" fill="#1a1a1a" font-weight="bold"  stroke="#1a1a1a" stroke-width="0.2">24</text>
<line x1="200.0" y1="646.4" x2="200.0" y2="648.9" stroke="#1c1c1c" stroke-width="1.1" />
<text x="200.0" y="657.8" font-size="7.4" text-anchor="middle" fill="#1a1a1a" font-weight="bold"  stroke="#1a1a1a" stroke-width="0.2">28</text>
<line x1="218.75" y1="646.4" x2="218.75" y2="648.9" stroke="#1c1c1c" stroke-width="1.1" />
<text x="218.75" y="657.8" font-size="7.4" text-anchor="middle" fill="#1a1a1a" font-weight="bold"  stroke="#1a1a1a" stroke-width="0.2">32</text>
<line x1="237.5" y1="646.4" x2="237.5" y2="648.9" stroke="#1c1c1c" stroke-width="1.1" />
<text x="237.5" y="657.8" font-size="7.4" text-anchor="middle" fill="#1a1a1a" font-weight="bold"  stroke="#1a1a1a" stroke-width="0.2">36</text>
<text x="155.5" y="671" font-size="9.9" text-anchor="middle" fill="#1a1a1a" font-weight="bold"  stroke="#1a1a1a" stroke-width="0.2">Week</text>
<rect x="55.5" y="675.8" width="122.0" height="16.5" fill="#fcfbcc"/>
<rect x="177.5" y="675.8" width="61.0" height="16.5" fill="#cff8e7"/>
<text x="116.5" y="687.05" font-size="8.9" text-anchor="middle" fill="#1a1a1a" font-weight="bold"  stroke="#1a1a1a" stroke-width="0.2">ART + Study Drug</text>
<text x="208.0" y="687.05" font-size="8.9" text-anchor="middle" fill="#1a1a1a" font-weight="bold"  stroke="#1a1a1a" stroke-width="0.2">ART only</text>
<text transform="translate(22,582.5) rotate(-90)" x="0" y="0" font-size="10.5" text-anchor="middle" dominant-baseline="central" fill="#1a1a1a" font-weight="bold" stroke="#1a1a1a" stroke-width="0.25">Plasma LPS Level</text>
<text transform="translate(34.3,582) rotate(-90)" x="0" y="0" font-size="10.5" text-anchor="middle" dominant-baseline="central" fill="#1a1a1a" font-weight="bold" stroke="#1a1a1a" stroke-width="0.25">(pg/ml)</text>
<line x1="69.3" y1="531.3" x2="69.3" y2="614.5" stroke="#8f1620" stroke-width="1.4" />
<line x1="66.8" y1="531.3" x2="71.8" y2="531.3" stroke="#8f1620" stroke-width="1.4" />
<line x1="66.8" y1="614.5" x2="71.8" y2="614.5" stroke="#8f1620" stroke-width="1.4" />
<line x1="88" y1="576.3" x2="88" y2="623.3" stroke="#8f1620" stroke-width="1.4" />
<line x1="85.5" y1="576.3" x2="90.5" y2="576.3" stroke="#8f1620" stroke-width="1.4" />
<line x1="85.5" y1="623.3" x2="90.5" y2="623.3" stroke="#8f1620" stroke-width="1.4" />
<line x1="181.8" y1="593.3" x2="181.8" y2="627.5" stroke="#8f1620" stroke-width="1.4" />
<line x1="179.3" y1="593.3" x2="184.3" y2="593.3" stroke="#8f1620" stroke-width="1.4" />
<line x1="179.3" y1="627.5" x2="184.3" y2="627.5" stroke="#8f1620" stroke-width="1.4" />
<line x1="238" y1="593.3" x2="238" y2="627.5" stroke="#8f1620" stroke-width="1.4" />
<line x1="235.5" y1="593.3" x2="240.5" y2="593.3" stroke="#8f1620" stroke-width="1.4" />
<line x1="235.5" y1="627.5" x2="240.5" y2="627.5" stroke="#8f1620" stroke-width="1.4" />
<line x1="74.3" y1="551.8" x2="74.3" y2="618.8" stroke="#161a72" stroke-width="1.4" />
<line x1="71.8" y1="551.8" x2="76.8" y2="551.8" stroke="#161a72" stroke-width="1.4" />
<line x1="71.8" y1="618.8" x2="76.8" y2="618.8" stroke="#161a72" stroke-width="1.4" />
<line x1="93" y1="567" x2="93" y2="622.5" stroke="#161a72" stroke-width="1.4" />
<line x1="90.5" y1="567" x2="95.5" y2="567" stroke="#161a72" stroke-width="1.4" />
<line x1="90.5" y1="622.5" x2="95.5" y2="622.5" stroke="#161a72" stroke-width="1.4" />
<line x1="186.8" y1="586.3" x2="186.8" y2="626.8" stroke="#161a72" stroke-width="1.4" />
<line x1="184.3" y1="586.3" x2="189.3" y2="586.3" stroke="#161a72" stroke-width="1.4" />
<line x1="184.3" y1="626.8" x2="189.3" y2="626.8" stroke="#161a72" stroke-width="1.4" />
<line x1="243" y1="605.8" x2="243" y2="630" stroke="#161a72" stroke-width="1.4" />
<line x1="240.5" y1="605.8" x2="245.5" y2="605.8" stroke="#161a72" stroke-width="1.4" />
<line x1="240.5" y1="630" x2="245.5" y2="630" stroke="#161a72" stroke-width="1.4" />
<line x1="173.4" y1="56.4" x2="173.4" y2="169.5" stroke="#1f5626" stroke-width="1.8" stroke-dasharray="2.6,2.03"/>
<line x1="444" y1="56.5" x2="444" y2="171" stroke="#1f5626" stroke-width="1.8" stroke-dasharray="2.6,2.1"/>
<line x1="176.4" y1="292.6" x2="176.4" y2="408.5" stroke="#1f5626" stroke-width="1.8" stroke-dasharray="2.6,2.1599999999999997"/>
<line x1="178.3" y1="526.6" x2="178.3" y2="646" stroke="#1f5626" stroke-width="1.8" stroke-dasharray="2.6,2.3000000000000003"/>
<polyline points="59.2,132.5 78,125 173,118 230,111.8" fill="none" stroke="#8f1620" stroke-width="1.2"/>
<polyline points="64.5,132.5 83.3,129.5 177.5,144.5 235,127" fill="none" stroke="#161a72" stroke-width="1.2"/>
<polyline points="330,123.3 348.5,101.3 443.5,110 500.5,97" fill="none" stroke="#8f1620" stroke-width="1.2"/>
<polyline points="334.5,123.3 353.8,126.8 448.8,129.3 505.5,121.8" fill="none" stroke="#161a72" stroke-width="1.2"/>
<polyline points="59.2,351.8 176.5,339.3 235,350.8" fill="none" stroke="#8f1620" stroke-width="1.2"/>
<polyline points="64.3,349.3 181.3,349.3 240,363.3" fill="none" stroke="#161a72" stroke-width="1.2"/>
<polyline points="342.7,393.3 392,376.4 490.3,371.5" fill="none" stroke="#8f1620" stroke-width="1.2"/>
<polyline points="348.8,381.3 398.1,379.6 496.4,381.5" fill="none" stroke="#161a72" stroke-width="1.2"/>
<polyline points="69.3,589.5 75,598 88,608.8 181.8,616.3 238,616.8" fill="none" stroke="#8f1620" stroke-width="1.2"/>
<polyline points="74.3,598 84,604 93,605.8 186.8,615 243,622.5" fill="none" stroke="#161a72" stroke-width="1.2"/>
<rect x="57.3" y="130.4" width="4.2" height="4.2" fill="#8f1620"/>
<rect x="75.9" y="122.9" width="4.2" height="4.2" fill="#8f1620"/>
<rect x="170.9" y="115.9" width="4.2" height="4.2" fill="#8f1620"/>
<rect x="227.9" y="109.7" width="4.2" height="4.2" fill="#8f1620"/>
<circle cx="64.5" cy="132.5" r="2.2" fill="#161a72"/>
<circle cx="83.3" cy="129.5" r="2.2" fill="#161a72"/>
<circle cx="177.5" cy="144.5" r="2.2" fill="#161a72"/>
<circle cx="235" cy="127" r="2.2" fill="#161a72"/>
<rect x="327.8" y="121.1" width="4.4" height="4.4" fill="#8f1620"/>
<rect x="346.3" y="99.1" width="4.4" height="4.4" fill="#8f1620"/>
<rect x="441.3" y="107.8" width="4.4" height="4.4" fill="#8f1620"/>
<rect x="498.3" y="94.8" width="4.4" height="4.4" fill="#8f1620"/>
<circle cx="334.5" cy="123.3" r="2.2" fill="#161a72"/>
<circle cx="353.8" cy="126.8" r="2.2" fill="#161a72"/>
<circle cx="448.8" cy="129.3" r="2.2" fill="#161a72"/>
<circle cx="505.5" cy="121.8" r="2.2" fill="#161a72"/>
<rect x="57.0" y="349.6" width="4.4" height="4.4" fill="#8f1620"/>
<rect x="174.3" y="337.1" width="4.4" height="4.4" fill="#8f1620"/>
<rect x="232.8" y="348.6" width="4.4" height="4.4" fill="#8f1620"/>
<circle cx="64.3" cy="349.3" r="2.2" fill="#161a72"/>
<circle cx="181.3" cy="349.3" r="2.2" fill="#161a72"/>
<circle cx="240" cy="363.3" r="2.2" fill="#161a72"/>
<rect x="340.4" y="391.0" width="4.6" height="4.6" fill="#8f1620"/>
<rect x="389.7" y="374.09999999999997" width="4.6" height="4.6" fill="#8f1620"/>
<rect x="488.0" y="369.2" width="4.6" height="4.6" fill="#8f1620"/>
<circle cx="348.8" cy="381.3" r="2.3" fill="#161a72"/>
<circle cx="398.1" cy="379.6" r="2.3" fill="#161a72"/>
<circle cx="496.4" cy="381.5" r="2.3" fill="#161a72"/>
<rect x="67.1" y="587.3" width="4.4" height="4.4" fill="#8f1620"/>
<rect x="85.8" y="606.5999999999999" width="4.4" height="4.4" fill="#8f1620"/>
<rect x="179.60000000000002" y="614.0999999999999" width="4.4" height="4.4" fill="#8f1620"/>
<rect x="235.8" y="614.5999999999999" width="4.4" height="4.4" fill="#8f1620"/>
<circle cx="74.3" cy="598" r="2.2" fill="#161a72"/>
<circle cx="93" cy="605.8" r="2.2" fill="#161a72"/>
<circle cx="186.8" cy="615" r="2.2" fill="#161a72"/>
<circle cx="243" cy="622.5" r="2.2" fill="#161a72"/>
</svg>
</body></html>
